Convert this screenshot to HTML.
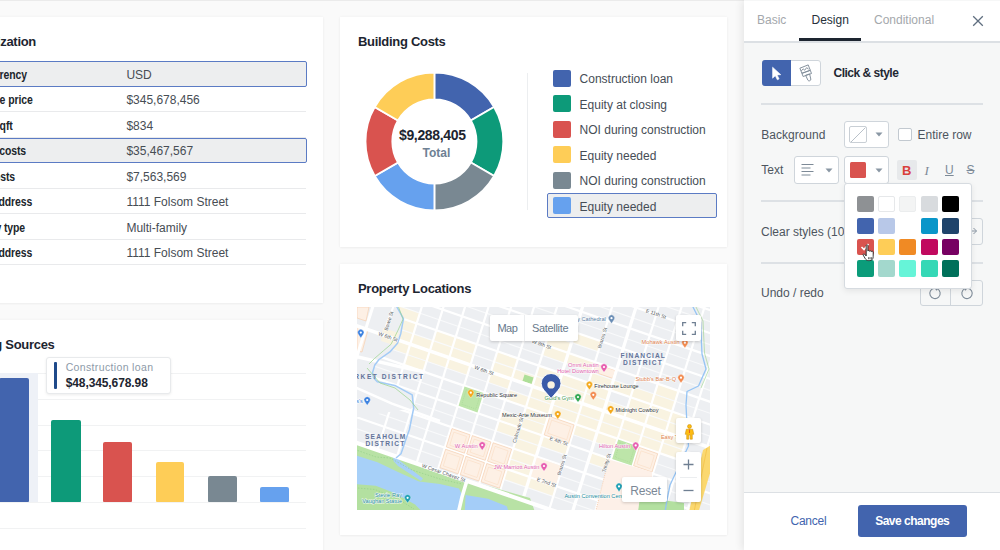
<!DOCTYPE html>
<html><head><meta charset="utf-8"><title>Dashboard</title>
<style>
*{margin:0;padding:0;box-sizing:border-box}
html,body{width:1000px;height:550px;overflow:hidden}
body{background:#fafafa;font-family:"Liberation Sans",Arial,sans-serif;position:relative;color:#1d2530}
.a{position:absolute}
.t{position:absolute;line-height:1;white-space:nowrap}
.card{position:absolute;background:#fff;box-shadow:0 0 3px rgba(0,0,0,.05),0 1px 2px rgba(0,0,0,.03)}
.h{font-weight:bold;font-size:13px;color:#1d2530;letter-spacing:-.3px}
.lb{font-weight:bold;font-size:12px;color:#20252b;letter-spacing:-.1px;transform:scaleX(.87);transform-origin:100% 50%}
.vl{font-size:12px;color:#474d54}
.sep{position:absolute;height:1px;background:#e9eaec}
.sel{position:absolute;background:#edeeef;border:1.5px solid #5b7bc4;border-radius:2px}
.grid{position:absolute;height:1px;background:#f1f2f3}
.bar{position:absolute;border-radius:2px 2px 1px 1px}
.lg{position:absolute;width:18px;height:17px;border-radius:2px}
.lt{position:absolute;font-size:12px;color:#464d56;line-height:1;white-space:nowrap}
</style></head><body>
<div class="a" style="left:0;top:0;width:1000px;height:1px;background:#ebebeb"></div>

<!-- Card 1: Capitalization -->
<div class="card" style="left:-300px;top:17px;width:623px;height:286px"></div>
<div class="t h" style="right:964px;top:34.6px">Capitalization</div>
<div class="sel" style="left:-300px;top:61px;width:607px;height:25.5px"></div>
<div class="sep" style="left:-300px;top:111.0px;width:606px"></div>
<div class="sep" style="left:-300px;top:136.5px;width:606px"></div>
<div class="sel" style="left:-300px;top:137.5px;width:607px;height:25.5px"></div>
<div class="sep" style="left:-300px;top:187.5px;width:606px"></div>
<div class="sep" style="left:-300px;top:213.0px;width:606px"></div>
<div class="sep" style="left:-300px;top:238.5px;width:606px"></div>
<div class="sep" style="left:-300px;top:264.0px;width:606px"></div>
<div class="t lb" style="right:973.6px;top:68.5px">Currency</div>
<div class="t lb" style="right:966.9px;top:94px">Purchase price</div>
<div class="t lb" style="right:987.5px;top:119.5px">Price/sqft</div>
<div class="t lb" style="right:974.2px;top:145px">Hard costs</div>
<div class="t lb" style="right:985.3px;top:170.5px">Soft costs</div>
<div class="t lb" style="right:967.6px;top:196px">Property address</div>
<div class="t lb" style="right:975.4px;top:221.5px">Property type</div>
<div class="t lb" style="right:967.6px;top:247px">Mailing address</div>
<div class="t vl" style="left:126.4px;top:68.5px">USD</div>
<div class="t vl" style="left:126.4px;top:94px">$345,678,456</div>
<div class="t vl" style="left:126.4px;top:119.5px">$834</div>
<div class="t vl" style="left:126.4px;top:145px">$35,467,567</div>
<div class="t vl" style="left:126.4px;top:170.5px">$7,563,569</div>
<div class="t vl" style="left:126.4px;top:196px">1111 Folsom Street</div>
<div class="t vl" style="left:126.4px;top:221.5px">Multi-family</div>
<div class="t vl" style="left:126.4px;top:247px">1111 Folsom Street</div>

<!-- Card 2: Funding Sources -->
<div class="card" style="left:-300px;top:320px;width:623px;height:260px"></div>
<div class="t h" style="right:945.5px;top:337.9px">Funding Sources</div>
<div class="a" style="left:-12px;top:373px;width:50px;height:129px;background:#eef1f7"></div>
<div class="grid" style="left:38px;top:373px;width:268px"></div>
<div class="grid" style="left:38px;top:399px;width:268px"></div>
<div class="grid" style="left:38px;top:424.5px;width:268px"></div>
<div class="grid" style="left:38px;top:450px;width:268px"></div>
<div class="grid" style="left:38px;top:476px;width:268px"></div>
<div class="grid" style="left:-300px;top:501.5px;width:606px"></div>
<div class="grid" style="left:-300px;top:527.5px;width:606px"></div>
<div class="bar" style="left:-1px;top:378.2px;width:29.8px;height:123.8px;background:#4264ae"></div>
<div class="bar" style="left:51.2px;top:420.2px;width:29.4px;height:81.8px;background:#0d9a79"></div>
<div class="bar" style="left:103.4px;top:441.9px;width:28.8px;height:60.1px;background:#d9534f"></div>
<div class="bar" style="left:155.8px;top:461.8px;width:28.5px;height:40.2px;background:#fecd57"></div>
<div class="bar" style="left:208px;top:475.5px;width:28.5px;height:26.5px;background:#798892"></div>
<div class="bar" style="left:259.8px;top:487px;width:28.8px;height:15px;background:#66a1ee"></div>
<div class="a" style="left:46px;top:357px;width:125px;height:37px;background:#fff;border:1px solid #e8eaec;border-radius:3px;box-shadow:0 1px 3px rgba(0,0,0,.08)"></div>
<div class="a" style="left:54px;top:361.5px;width:3px;height:27.5px;background:#1f4a8a;border-radius:1px"></div>
<div class="t" style="left:65.7px;top:362.3px;font-size:10.5px;color:#8d9aa8;letter-spacing:.35px">Construction loan</div>
<div class="t" style="left:65.7px;top:376.5px;font-size:12px;font-weight:bold;color:#1d2530;letter-spacing:-.1px">$48,345,678.98</div>

<!-- Card 3: Building Costs -->
<div class="card" style="left:340px;top:17px;width:387px;height:230px"></div>
<div class="t h" style="left:358px;top:34.5px">Building Costs</div>

<svg class="a" style="left:0;top:0" width="1000" height="550" viewBox="0 0 1000 550">
<g stroke="#fff" stroke-width="1.8" stroke-linejoin="miter">
<path d="M434.40 72.60A68.9 68.9 0 0 1 494.07 107.05L470.86 120.45A42.1 42.1 0 0 0 434.40 99.40Z" fill="#4264ae"/>
<path d="M494.07 107.05A68.9 68.9 0 0 1 494.07 175.95L470.86 162.55A42.1 42.1 0 0 0 470.86 120.45Z" fill="#0d9a79"/>
<path d="M494.07 175.95A68.9 68.9 0 0 1 434.40 210.40L434.40 183.60A42.1 42.1 0 0 0 470.86 162.55Z" fill="#798892"/>
<path d="M434.40 210.40A68.9 68.9 0 0 1 374.73 175.95L397.94 162.55A42.1 42.1 0 0 0 434.40 183.60Z" fill="#66a1ee"/>
<path d="M374.73 175.95A68.9 68.9 0 0 1 374.73 107.05L397.94 120.45A42.1 42.1 0 0 0 397.94 162.55Z" fill="#d9534f"/>
<path d="M374.73 107.05A68.9 68.9 0 0 1 434.40 72.60L434.40 99.40A42.1 42.1 0 0 0 397.94 120.45Z" fill="#fecd57"/>
</g></svg>
<div class="t" style="left:399px;top:127.5px;font-size:14px;font-weight:bold;color:#1d2530;letter-spacing:-.35px">$9,288,405</div>
<div class="t" style="left:422.5px;top:147.2px;font-size:12px;font-weight:bold;color:#6e8194">Total</div>
<div class="a" style="left:527px;top:73px;width:1px;height:137px;background:#eceef0"></div>
<div class="sel" style="left:546.7px;top:193.1px;width:170.1px;height:25.3px"></div>
<div class="lg" style="left:553.4px;top:69.6px;background:#4264ae"></div>
<div class="lg" style="left:553.4px;top:95.1px;background:#0d9a79"></div>
<div class="lg" style="left:553.4px;top:120.6px;background:#d9534f"></div>
<div class="lg" style="left:553.4px;top:146.1px;background:#fecd57"></div>
<div class="lg" style="left:553.4px;top:171.6px;background:#798892"></div>
<div class="lg" style="left:553.4px;top:197.1px;background:#66a1ee"></div>
<div class="lt" style="left:579.6px;top:73.2px">Construction loan</div>
<div class="lt" style="left:579.6px;top:98.7px">Equity at closing</div>
<div class="lt" style="left:579.6px;top:124.2px">NOI during construction</div>
<div class="lt" style="left:579.6px;top:149.7px">Equity needed</div>
<div class="lt" style="left:579.6px;top:175.2px">NOI during construction</div>
<div class="lt" style="left:579.6px;top:200.7px">Equity needed</div>

<!-- Card 4: Property Locations -->
<div class="card" style="left:340px;top:264px;width:387px;height:271px"></div>
<div class="t h" style="left:358px;top:282px">Property Locations</div>
<!--MAP-->
<svg class="a" style="left:357px;top:307px" width="353" height="203" viewBox="0 0 353 203" font-family="Liberation Sans, Arial, sans-serif">
<rect width="353" height="203" fill="#edeff2"/>
<clipPath id="gc"><polygon points="40.2,-7.0 40.2,0.2 46.2,12.2 45.1,19.8 40.7,32.9 34.2,43.8 22.2,52.5 17.8,58.0 15.5,65.7 16.7,71.0 20.3,74.8 37.8,78.4 55.2,87.9 56.7,101.0 -5.0,111.0 -5.0,213.0 363.0,213.0 363.0,-7.0"/></clipPath>
<g clip-path="url(#gc)">
<polygon points="142.0,113.9 162.2,120.9 159.2,130.7 139.0,123.7" fill="#f9f3e1"/>
<polygon points="41.1,-1.1 62.5,6.3 59.5,16.1 38.1,8.7" fill="#f9f3e1"/>
<polygon points="37.9,9.3 59.3,16.7 56.3,26.5 34.9,19.1" fill="#f9f3e1"/>
<polygon points="34.7,19.6 56.1,27.0 53.1,36.8 31.7,29.4" fill="#f9f3e1"/>
<polygon points="56.7,27.2 75.6,33.7 72.6,43.5 53.6,37.0" fill="#f9f3e1"/>
<polygon points="53.5,37.5 72.4,44.1 69.4,53.9 50.4,47.3" fill="#f9f3e1"/>
<polygon points="76.2,33.9 95.2,40.5 92.1,50.3 73.1,43.7" fill="#f9f3e1"/>
<polygon points="73.0,44.3 91.9,50.8 88.9,60.6 69.9,54.1" fill="#f9f3e1"/>
<polygon points="50.3,47.9 69.2,54.4 66.2,64.2 47.2,57.7" fill="#f9f3e1"/>
<polygon points="31.5,30.0 52.9,37.4 49.9,47.2 28.5,39.8" fill="#f9f3e1"/>
<polygon points="79.4,23.6 98.4,30.1 95.3,39.9 76.3,33.4" fill="#f9f3e1"/>
<polygon points="98.9,30.3 119.5,37.4 116.5,47.2 95.9,40.1" fill="#f9f3e1"/>
<polygon points="95.7,40.7 116.3,47.8 113.3,57.6 92.7,50.5" fill="#f9f3e1"/>
<polygon points="92.5,51.0 113.1,58.1 110.0,67.9 89.4,60.8" fill="#f9f3e1"/>
<polygon points="140.5,44.7 160.7,51.6 157.7,61.4 137.4,54.5" fill="#f9f3e1"/>
<polygon points="137.2,55.0 157.5,62.0 154.4,71.8 134.2,64.8" fill="#f9f3e1"/>
<polygon points="134.0,65.3 154.3,72.3 151.2,82.1 131.0,75.1" fill="#f9f3e1"/>
<polygon points="158.0,62.2 178.3,69.2 175.2,79.0 155.0,72.0" fill="#f9f3e1"/>
<polygon points="151.6,82.9 171.9,89.8 168.8,99.6 148.6,92.7" fill="#f9f3e1"/>
<polygon points="172.4,90.0 194.9,97.8 191.8,107.6 169.4,99.8" fill="#f9f3e1"/>
<polygon points="191.6,28.0 214.1,35.7 211.1,45.5 188.6,37.8" fill="#f9f3e1"/>
<polygon points="217.9,25.6 244.0,34.6 240.9,44.4 214.8,35.4" fill="#f9f3e1"/>
<polygon points="188.4,38.3 210.9,46.1 207.9,55.9 185.4,48.1" fill="#f9f3e1"/>
<polygon points="211.5,46.3 237.6,55.3 234.5,65.1 208.4,56.1" fill="#f9f3e1"/>
<polygon points="178.8,69.3 201.3,77.1 198.3,86.9 175.8,79.1" fill="#f9f3e1"/>
<polygon points="205.0,66.9 231.2,75.9 228.1,85.8 202.0,76.7" fill="#f9f3e1"/>
<polygon points="182.0,59.0 204.5,66.8 201.5,76.6 179.0,68.8" fill="#f9f3e1"/>
<polygon points="276.9,80.3 297.1,87.3 294.1,97.1 273.9,90.1" fill="#f9f3e1"/>
<polygon points="300.9,77.1 321.1,84.1 318.1,93.9 297.9,86.9" fill="#f9f3e1"/>
<polygon points="159.6,131.4 182.1,139.2 179.0,149.0 156.5,141.2" fill="#f9f3e1"/>
<polygon points="185.8,129.0 211.9,138.0 208.9,147.8 182.8,138.8" fill="#f9f3e1"/>
<polygon points="234.1,145.7 253.9,152.5 250.9,162.3 231.1,155.5" fill="#f9f3e1"/>
<polygon points="173.0,170.4 199.1,179.4 196.1,189.2 169.9,180.2" fill="#f9f3e1"/>
<polygon points="156.4,141.7 178.9,149.5 175.8,159.3 153.3,151.5" fill="#f9f3e1"/>
<polygon points="145.2,103.5 165.4,110.5 162.4,120.3 142.2,113.3" fill="#f9f3e1"/>
<polygon points="166.0,110.7 188.5,118.5 185.4,128.3 162.9,120.5" fill="#f9f3e1"/>
<polygon points="162.8,121.1 185.3,128.8 182.2,138.6 159.7,130.9" fill="#f9f3e1"/>
<polygon points="153.2,152.1 175.6,159.8 172.6,169.6 150.1,161.9" fill="#f9f3e1"/>
<polygon points="149.9,162.4 172.4,170.2 169.4,180.0 146.9,172.2" fill="#f9f3e1"/>
<polygon points="231.7,76.1 252.8,83.4 249.8,93.2 228.7,85.9" fill="#f9f3e1"/>
<polygon points="175.6,79.7 198.1,87.4 195.1,97.2 172.6,89.5" fill="#f9f3e1"/>
<polygon points="284.9,128.8 305.1,135.8 302.1,145.6 281.8,138.6" fill="#f9f3e1"/>
<polygon points="305.6,136.0 325.9,143.0 322.8,152.8 302.6,145.8" fill="#f9f3e1"/>
<polygon points="169.2,100.4 191.7,108.1 188.6,117.9 166.1,110.2" fill="#f9f3e1"/>
<polygon points="195.4,98.0 221.5,107.0 218.5,116.8 192.4,107.8" fill="#f9f3e1"/>
<polygon points="201.8,77.3 227.9,86.3 224.9,96.1 198.8,87.1" fill="#f9f3e1"/>
<polygon points="198.6,87.6 224.7,96.6 221.7,106.4 195.6,97.4" fill="#f9f3e1"/>
<polygon points="218.9,117.5 240.0,124.8 237.0,134.6 215.8,127.3" fill="#f9f3e1"/>
<polygon points="225.3,96.8 246.4,104.1 243.4,113.9 222.2,106.6" fill="#f9f3e1"/>
<polygon points="222.1,107.2 243.2,114.5 240.2,124.3 219.0,117.0" fill="#f9f3e1"/>
<polygon points="228.5,86.5 249.6,93.8 246.6,103.6 225.5,96.3" fill="#f9f3e1"/>
<polygon points="243.8,114.6 263.5,121.5 260.5,131.3 240.7,124.4" fill="#f9f3e1"/>
<polygon points="240.6,125.0 260.3,131.8 257.3,141.6 237.5,134.8" fill="#f9f3e1"/>
<polygon points="234.9,65.8 256.0,73.1 253.0,82.9 231.9,75.6" fill="#f9f3e1"/>
<polygon points="250.2,94.0 270.0,100.8 266.9,110.6 247.1,103.8" fill="#f9f3e1"/>
<polygon points="247.0,104.3 266.8,111.1 263.7,120.9 243.9,114.1" fill="#f9f3e1"/>
<polygon points="256.6,73.3 276.4,80.1 273.3,89.9 253.5,83.1" fill="#f9f3e1"/>
<polygon points="267.3,111.3 287.5,118.3 284.5,128.1 264.3,121.1" fill="#f9f3e1"/>
<polygon points="264.1,121.7 284.3,128.6 281.3,138.4 261.0,131.5" fill="#f9f3e1"/>
<polygon points="273.7,90.6 293.9,97.6 290.9,107.4 270.7,100.4" fill="#f9f3e1"/>
<polygon points="270.5,101.0 290.7,108.0 287.7,117.8 267.5,110.8" fill="#f9f3e1"/>
<polygon points="288.1,118.5 308.3,125.5 305.3,135.3 285.0,128.3" fill="#f9f3e1"/>
<polygon points="294.5,97.8 314.7,104.8 311.7,114.6 291.4,107.6" fill="#f9f3e1"/>
<polygon points="291.3,108.1 311.5,115.1 308.5,124.9 288.2,117.9" fill="#f9f3e1"/>
<polygon points="297.7,87.5 317.9,94.4 314.9,104.2 294.7,97.3" fill="#f9f3e1"/>
<polygon points="312.1,115.3 332.3,122.3 329.3,132.1 309.0,125.1" fill="#f9f3e1"/>
<polygon points="308.8,125.7 329.1,132.6 326.0,142.4 305.8,135.5" fill="#f9f3e1"/>
<polygon points="315.3,105.0 335.5,111.9 332.5,121.7 312.2,114.8" fill="#f9f3e1"/>
<polygon points="238.7,56.5 258.2,63.3 255.7,71.4 236.1,64.7" fill="#fdf0e5" stroke="#f6cba8" stroke-width=".6"/>
</g>
<polygon points="167.5,67.5 176.5,70.5 174.5,77.0 165.5,74.0" fill="#aedf98"/>
<polygon points="0.0,0.0 12.0,0.0 9.0,14.0 0.0,11.0" fill="#fdf0e5" stroke="#f6cba8" stroke-width=".6"/>
<polygon points="0.0,19.0 11.0,23.0 5.0,45.0 0.0,44.0" fill="#fdf0e5" stroke="#f6cba8" stroke-width=".6"/>
<polygon points="26.0,21.0 42.0,26.0 39.0,39.0 24.0,34.0" fill="#f9f3e1"/>
<g clip-path="url(#gc)">
<line x1="-5" y1="-257.7" x2="358" y2="-132.5" stroke="#fff" stroke-width="2.2"/>
<line x1="-5" y1="-246.3" x2="358" y2="-121.0" stroke="#f9fafb" stroke-width="1.1"/>
<line x1="-5" y1="-234.8" x2="358" y2="-109.6" stroke="#fff" stroke-width="2.2"/>
<line x1="-5" y1="-223.4" x2="358" y2="-98.1" stroke="#f9fafb" stroke-width="1.1"/>
<line x1="-5" y1="-211.9" x2="358" y2="-86.7" stroke="#fff" stroke-width="2.2"/>
<line x1="-5" y1="-200.5" x2="358" y2="-75.2" stroke="#f9fafb" stroke-width="1.1"/>
<line x1="-5" y1="-189.0" x2="358" y2="-63.8" stroke="#fff" stroke-width="2.2"/>
<line x1="-5" y1="-177.6" x2="358" y2="-52.3" stroke="#f9fafb" stroke-width="1.1"/>
<line x1="-5" y1="-166.1" x2="358" y2="-40.9" stroke="#fff" stroke-width="2.2"/>
<line x1="-5" y1="-154.7" x2="358" y2="-29.4" stroke="#f9fafb" stroke-width="1.1"/>
<line x1="-5" y1="-143.2" x2="358" y2="-18.0" stroke="#fff" stroke-width="2.2"/>
<line x1="-5" y1="-131.8" x2="358" y2="-6.5" stroke="#f9fafb" stroke-width="1.1"/>
<line x1="-5" y1="-120.3" x2="358" y2="4.9" stroke="#fff" stroke-width="2.2"/>
<line x1="-5" y1="-108.9" x2="358" y2="16.4" stroke="#f9fafb" stroke-width="1.1"/>
<line x1="-5" y1="-97.4" x2="358" y2="27.8" stroke="#fff" stroke-width="2.2"/>
<line x1="-5" y1="-86.0" x2="358" y2="39.3" stroke="#f9fafb" stroke-width="1.1"/>
<line x1="-5" y1="-74.5" x2="358" y2="50.7" stroke="#fff" stroke-width="2.2"/>
<line x1="-5" y1="-63.1" x2="358" y2="62.2" stroke="#f9fafb" stroke-width="1.1"/>
<line x1="-5" y1="-51.6" x2="358" y2="73.6" stroke="#fff" stroke-width="2.2"/>
<line x1="-5" y1="-40.2" x2="358" y2="85.1" stroke="#f9fafb" stroke-width="1.1"/>
<line x1="-5" y1="-28.7" x2="358" y2="96.5" stroke="#fff" stroke-width="2.2"/>
<line x1="-5" y1="-17.3" x2="358" y2="108.0" stroke="#f9fafb" stroke-width="1.1"/>
<line x1="-5" y1="-5.8" x2="358" y2="119.4" stroke="#fff" stroke-width="2.2"/>
<line x1="-5" y1="5.6" x2="358" y2="130.9" stroke="#f9fafb" stroke-width="1.1"/>
<line x1="-5" y1="17.1" x2="358" y2="142.3" stroke="#fff" stroke-width="2.2"/>
<line x1="-5" y1="28.5" x2="358" y2="153.8" stroke="#f9fafb" stroke-width="1.1"/>
<line x1="-5" y1="40.0" x2="358" y2="165.2" stroke="#fff" stroke-width="2.2"/>
<line x1="-5" y1="51.4" x2="358" y2="176.7" stroke="#f9fafb" stroke-width="1.1"/>
<line x1="-5" y1="62.9" x2="358" y2="188.1" stroke="#fff" stroke-width="2.2"/>
<line x1="-5" y1="74.3" x2="358" y2="199.6" stroke="#f9fafb" stroke-width="1.1"/>
<line x1="-5" y1="85.8" x2="358" y2="211.0" stroke="#fff" stroke-width="2.2"/>
<line x1="-5" y1="97.2" x2="358" y2="222.5" stroke="#f9fafb" stroke-width="1.1"/>
<line x1="-5" y1="108.7" x2="358" y2="233.9" stroke="#fff" stroke-width="2.2"/>
<line x1="-5" y1="120.1" x2="358" y2="245.4" stroke="#f9fafb" stroke-width="1.1"/>
<line x1="-5" y1="143.0" x2="358" y2="268.3" stroke="#f9fafb" stroke-width="1.1"/>
<line x1="-5" y1="154.5" x2="358" y2="279.7" stroke="#fff" stroke-width="2.2"/>
<line x1="-5" y1="165.9" x2="358" y2="291.2" stroke="#f9fafb" stroke-width="1.1"/>
<line x1="-5" y1="177.4" x2="358" y2="302.6" stroke="#fff" stroke-width="2.2"/>
<line x1="-5" y1="188.8" x2="358" y2="314.1" stroke="#f9fafb" stroke-width="1.1"/>
<line x1="-5" y1="200.3" x2="358" y2="325.5" stroke="#fff" stroke-width="2.2"/>
<line x1="-5" y1="211.7" x2="358" y2="337.0" stroke="#f9fafb" stroke-width="1.1"/>
<line x1="14.1" y1="-5" x2="-52.0" y2="208" stroke="#fff" stroke-width="2.2"/>
<line x1="66.3" y1="-5" x2="0.3" y2="208" stroke="#fff" stroke-width="2.2"/>
<line x1="88.0" y1="-5" x2="21.9" y2="208" stroke="#fff" stroke-width="2.2"/>
<line x1="109.5" y1="-5" x2="43.5" y2="208" stroke="#fff" stroke-width="2.2"/>
<line x1="133.0" y1="-5" x2="66.9" y2="208" stroke="#fff" stroke-width="2.2"/>
<line x1="155.6" y1="-5" x2="89.5" y2="208" stroke="#fff" stroke-width="2.2"/>
<line x1="178.6" y1="-5" x2="112.5" y2="208" stroke="#fff" stroke-width="2.2"/>
<line x1="201.6" y1="-5" x2="135.5" y2="208" stroke="#fff" stroke-width="2.2"/>
<line x1="227.1" y1="-5" x2="161.0" y2="208" stroke="#fff" stroke-width="3.2"/>
<line x1="256.6" y1="-5" x2="190.5" y2="208" stroke="#fff" stroke-width="2.2"/>
<line x1="280.6" y1="-5" x2="214.5" y2="208" stroke="#fff" stroke-width="3.2"/>
<line x1="303.1" y1="-5" x2="237.0" y2="208" stroke="#fff" stroke-width="2.2"/>
<line x1="326.1" y1="-5" x2="260.0" y2="208" stroke="#fff" stroke-width="2.2"/>
<line x1="349.1" y1="-5" x2="283.0" y2="208" stroke="#fff" stroke-width="2.2"/>
<line x1="372.1" y1="-5" x2="306.0" y2="208" stroke="#fff" stroke-width="2.2"/>
<line x1="395.1" y1="-5" x2="329.0" y2="208" stroke="#fff" stroke-width="2.2"/>
</g>
<polygon points="95.0,121.6 113.1,127.8 107.4,146.2 89.3,139.9" fill="#fdf0e5" stroke="#f6cba8" stroke-width=".6"/>
<polygon points="96.8,125.1 109.6,129.5 105.6,142.6 92.8,138.2" fill="none" stroke="#f8d8bd" stroke-width=".5"/>
<polygon points="115.4,128.6 133.9,135.0 128.2,153.3 109.7,147.0" fill="#fdf0e5" stroke="#f6cba8" stroke-width=".6"/>
<polygon points="117.2,132.1 130.4,136.7 126.4,149.8 113.2,145.2" fill="none" stroke="#f8d8bd" stroke-width=".5"/>
<polygon points="136.2,135.8 154.6,142.1 148.9,160.5 130.5,154.1" fill="#fdf0e5" stroke="#f6cba8" stroke-width=".6"/>
<polygon points="138.0,139.3 151.2,143.9 147.1,157.0 134.0,152.4" fill="none" stroke="#f8d8bd" stroke-width=".5"/>
<polygon points="88.6,142.3 106.7,148.5 101.0,166.8 82.9,160.6" fill="#fdf0e5" stroke="#f6cba8" stroke-width=".6"/>
<polygon points="90.4,145.8 103.2,150.2 99.2,163.3 86.3,158.9" fill="none" stroke="#f8d8bd" stroke-width=".5"/>
<polygon points="109.0,149.3 127.4,155.7 121.8,174.0 103.3,167.6" fill="#fdf0e5" stroke="#f6cba8" stroke-width=".6"/>
<polygon points="110.8,152.8 124.0,157.4 120.0,170.5 106.8,165.9" fill="none" stroke="#f8d8bd" stroke-width=".5"/>
<polygon points="129.8,156.5 148.2,162.8 142.5,181.2 124.1,174.8" fill="#fdf0e5" stroke="#f6cba8" stroke-width=".6"/>
<polygon points="131.6,160.0 144.8,164.6 140.7,177.7 127.5,173.1" fill="none" stroke="#f8d8bd" stroke-width=".5"/>
<polygon points="192.8,109.5 217.1,117.9 211.5,136.3 187.2,127.9" fill="#fdf0e5" stroke="#f6cba8" stroke-width=".6"/>
<polygon points="194.7,113.1 213.7,119.6 209.7,132.7 190.6,126.2" fill="none" stroke="#f8d8bd" stroke-width=".5"/>
<polygon points="282.3,140.4 300.7,146.7 295.0,165.1 276.6,158.7" fill="#fdf0e5" stroke="#f6cba8" stroke-width=".6"/>
<polygon points="284.1,143.9 297.3,148.5 293.2,161.6 280.0,157.0" fill="none" stroke="#f8d8bd" stroke-width=".5"/>
<polygon points="179.8,150.5 204.7,159.1 198.8,178.0 174.0,169.4" fill="#fdf1e6"/>
<polygon points="107.5,79.6 126.5,86.1 120.5,105.4 101.6,98.8" fill="#bde5a9"/>
<polygon points="109.2,82.9 123.3,87.7 118.8,102.1 104.8,97.2" fill="none" stroke="#9ed48f" stroke-width=".5" stroke-dasharray="1 1"/>
<polygon points="261.2,132.6 280.5,139.3 274.6,158.5 255.2,151.9" fill="#bde5a9"/>
<polygon points="262.9,135.9 277.3,140.9 272.9,155.2 258.4,150.3" fill="none" stroke="#9ed48f" stroke-width=".5" stroke-dasharray="1 1"/>
<line x1="-5" y1="17.1" x2="358" y2="142.3" stroke="#fff" stroke-width="3.6"/>
<polyline points="-5.0,48.6 43.6,59.9 68.0,65.0" stroke="#fff" stroke-width="3.4" fill="none"/>
<polyline points="-5.0,79.0 35.0,96.6 83.0,114.0" stroke="#fff" stroke-width="2.6" fill="none"/>
<polyline points="18.0,-7.0 0.0,49.0 -5.0,63.0" stroke="#fff" stroke-width="3" fill="none"/>
<polyline points="37.0,-2.0 29.0,19.0" stroke="#fff" stroke-width="2" fill="none"/>
<polygon points="-5.0,133.0 83.0,164.0 113.0,174.0 173.0,191.0 178.0,205.0 -5.0,205.0" fill="#b8e2a5"/>
<polygon points="-5.0,147.0 20.5,155.3 41.0,165.0 62.0,174.5 83.0,177.0 102.0,181.5 105.0,188.0 103.5,205.0 -5.0,205.0" fill="#a7d0f8"/>
<polygon points="36.0,148.5 40.5,148.5 43.0,154.0 66.0,171.5 64.0,174.0 41.0,159.0 36.5,154.0" fill="#a7d0f8"/>
<polygon points="-5.0,176.8 18.7,178.7 37.5,186.0 58.0,197.4 65.5,205.0 -5.0,205.0" fill="#b3e0a0"/>
<polygon points="108.6,188.0 131.0,191.8 149.8,199.3 151.7,205.0 107.7,205.0" fill="#a4cdf8"/>
<polyline points="-5.0,180.5 18.0,182.5 41.0,192.0 57.0,202.0" stroke="#8fcf84" stroke-width=".6" stroke-dasharray="1.5 1.5" fill="none"/>
<polyline points="-5.0,141.5 19.0,150.0 33.0,151.0 55.0,163.0 83.0,172.0 105.0,177.0" stroke="#8fcf84" stroke-width=".6" stroke-dasharray="1.5 1.5" fill="none"/>
<line x1="-5" y1="134.3" x2="358" y2="259.5" stroke="#fff" stroke-width="4.2"/>
<polyline points="109.5,175.0 105.0,190.0 101.5,205.0" stroke="#fff" stroke-width="3.6" fill="none"/>
<polygon points="251.7,152.4 295.0,165.0 295.0,205.0 238.5,205.0" fill="#fdf0e8"/>
<polyline points="251.7,152.4 238.5,205.0" stroke="#f3c6a3" stroke-width=".8" stroke-dasharray="1 1" fill="none"/>
<polygon points="283.0,190.0 327.0,196.0 327.0,205.0 281.0,205.0" fill="#b3e0a0"/>
<polygon points="346.0,143.0 354.0,138.0 354.0,163.0 341.5,205.0 332.0,205.0" fill="#fbd86f"/>
<polyline points="350.0,141.0 337.0,205.0" stroke="#f3c24a" stroke-width=".8" fill="none"/>
<polyline points="40.0,-2.0 40.0,0.2 46.5,11.6 43.8,26.4 40.5,36.2 32.9,44.9 22.0,52.5 17.8,58.0 15.5,65.7 16.7,71.0 20.3,74.8 37.8,78.4 55.2,87.9 56.7,101.0 53.8,115.5 52.4,122.5 48.0,135.0 44.0,146.8 39.0,151.0" stroke="#a3cbf6" stroke-width="1.5" fill="none" stroke-linejoin="round"/>
<polyline points="41.6,-2.0 41.6,0.2 46.0,12.2 41.1,23.1 34.0,37.3 26.4,43.8 17.6,51.4 12.0,57.0" stroke="#98d28a" stroke-width=".7" fill="none"/>
<polyline points="10.0,61.0 23.0,76.0 38.0,81.0 53.0,93.0 61.0,103.0" stroke="#98d28a" stroke-width=".7" fill="none"/>
<polyline points="335.0,-2.0 336.0,0.0 343.5,15.0 345.0,47.0 349.0,62.0 341.5,79.0 330.0,84.5 329.0,98.0 330.0,118.0 331.5,139.0 321.0,161.0 313.0,178.0 310.0,193.0 308.0,205.0" stroke="#95c4f5" stroke-width="1.3" fill="none" stroke-linejoin="round"/>
<polyline points="338.0,-2.0 346.0,14.0 347.5,46.0 352.0,62.0 344.0,81.0" stroke="#98d28a" stroke-width=".6" fill="none"/>
<text x="30.5" y="31.5" font-size="5.2" fill="#555a60" text-anchor="middle" font-weight="normal" stroke="#fff" stroke-width="1" stroke-opacity=".85" paint-order="stroke" transform="rotate(19 30.5 31.5)">W 6th St</text>
<text x="126.4" y="65.1" font-size="5.2" fill="#555a60" text-anchor="middle" font-weight="normal" stroke="#fff" stroke-width="1" stroke-opacity=".85" paint-order="stroke" transform="rotate(19 126.4 65.1)">W 6th St</text>
<text x="184.0" y="39.0" font-size="5.2" fill="#555a60" text-anchor="middle" font-weight="normal" stroke="#fff" stroke-width="1" stroke-opacity=".85" paint-order="stroke" transform="rotate(19 184.0 39.0)">W 8th St</text>
<text x="298.5" y="8.6" font-size="5.2" fill="#555a60" text-anchor="middle" font-weight="normal" stroke="#fff" stroke-width="1" stroke-opacity=".85" paint-order="stroke" transform="rotate(19 298.5 8.6)">E 11th St</text>
<text x="33.5" y="14.5" font-size="5" fill="#555a60" text-anchor="middle" font-weight="normal" stroke="#fff" stroke-width="1" stroke-opacity=".85" paint-order="stroke" transform="rotate(-72 33.5 14.5)">Bowie St</text>
<text x="247.0" y="31.5" font-size="5" fill="#555a60" text-anchor="middle" font-weight="normal" stroke="#fff" stroke-width="1" stroke-opacity=".85" paint-order="stroke" transform="rotate(-73 247.0 31.5)">Brazos St</text>
<text x="206.5" y="158.5" font-size="5" fill="#555a60" text-anchor="middle" font-weight="normal" stroke="#fff" stroke-width="1" stroke-opacity=".85" paint-order="stroke" transform="rotate(-73 206.5 158.5)">Brazos St</text>
<text x="162.5" y="123.5" font-size="5" fill="#555a60" text-anchor="middle" font-weight="normal" stroke="#fff" stroke-width="1" stroke-opacity=".85" paint-order="stroke" transform="rotate(-73 162.5 123.5)">Colorado St</text>
<text x="251.0" y="156.5" font-size="5" fill="#555a60" text-anchor="middle" font-weight="normal" stroke="#fff" stroke-width="1" stroke-opacity=".85" paint-order="stroke" transform="rotate(-73 251.0 156.5)">Trinity St</text>
<text x="201.1" y="135.7" font-size="5.2" fill="#555a60" text-anchor="middle" font-weight="normal" stroke="#fff" stroke-width="1" stroke-opacity=".85" paint-order="stroke" transform="rotate(19 201.1 135.7)">E 4th St</text>
<text x="189.0" y="177.0" font-size="5.2" fill="#555a60" text-anchor="middle" font-weight="normal" stroke="#fff" stroke-width="1" stroke-opacity=".85" paint-order="stroke" transform="rotate(19 189.0 177.0)">E 2nd St</text>
<text x="86.1" y="167.5" font-size="5.2" fill="#555a60" text-anchor="middle" font-weight="normal" stroke="#fff" stroke-width="1" stroke-opacity=".85" paint-order="stroke" transform="rotate(19.5 86.1 167.5)">W Cesar Chavez St</text>
<text x="67.6" y="71.9" font-size="6.6" fill="#62739a" text-anchor="end" font-weight="bold" letter-spacing="1.55">MARKET DISTRICT</text>
<text x="8.0" y="131.7" font-size="6.6" fill="#62739a" text-anchor="start" font-weight="bold" letter-spacing="1.2">SEAHOLM</text>
<text x="8.4" y="138.5" font-size="6.6" fill="#62739a" text-anchor="start" font-weight="bold" letter-spacing="1.2">DISTRICT</text>
<text x="263.5" y="50.6" font-size="6.6" fill="#62739a" text-anchor="start" font-weight="bold" letter-spacing="1.1">FINANCIAL</text>
<text x="266.0" y="57.6" font-size="6.6" fill="#62739a" text-anchor="start" font-weight="bold" letter-spacing="1.2">DISTRICT</text>
<path d="M254.5 16.5L252.0 12.9A3.1 3.1 0 1 1 257.0 12.9Z" fill="#6a8db5" stroke="#fff" stroke-width=".35"/>
<circle cx="254.5" cy="11.2" r="1.12" fill="#fff"/>
<text x="248.8" y="13.5" font-size="5.6" fill="#5b7fa6" text-anchor="end" font-weight="normal" stroke="#fff" stroke-width="1" stroke-opacity=".85" paint-order="stroke">St. Mary Cathedral</text>
<path d="M113.8 91.0L111.3 87.4A3.1 3.1 0 1 1 116.3 87.4Z" fill="#f4a91c" stroke="#fff" stroke-width=".35"/>
<circle cx="113.8" cy="85.7" r="1.12" fill="#fff"/>
<text x="119.3" y="89.5" font-size="5.5" fill="#2d3033" text-anchor="start" font-weight="normal" stroke="#fff" stroke-width="1" stroke-opacity=".85" paint-order="stroke">Republic Square</text>
<path d="M221.0 95.3L218.5 91.7A3.1 3.1 0 1 1 223.5 91.7Z" fill="#34a853" stroke="#fff" stroke-width=".35"/>
<circle cx="221.0" cy="90.0" r="1.12" fill="#fff"/>
<text x="216.6" y="93.3" font-size="5.6" fill="#3d9a4f" text-anchor="end" font-weight="normal" stroke="#fff" stroke-width="1" stroke-opacity=".85" paint-order="stroke">Gold's Gym</text>
<path d="M200.8 112.3L198.3 108.7A3.1 3.1 0 1 1 203.3 108.7Z" fill="#f4a91c" stroke="#fff" stroke-width=".35"/>
<circle cx="200.8" cy="107.0" r="1.12" fill="#fff"/>
<text x="194.8" y="109.8" font-size="5.6" fill="#2d3033" text-anchor="end" font-weight="normal" stroke="#fff" stroke-width="1" stroke-opacity=".85" paint-order="stroke">Mexic-Arte Museum</text>
<path d="M232.4 82.8L229.9 79.2A3.1 3.1 0 1 1 234.9 79.2Z" fill="#f4a91c" stroke="#fff" stroke-width=".35"/>
<circle cx="232.4" cy="77.5" r="1.12" fill="#fff"/>
<text x="237.3" y="81.0" font-size="5.5" fill="#2d3033" text-anchor="start" font-weight="normal" stroke="#fff" stroke-width="1" stroke-opacity=".85" paint-order="stroke">Firehouse Lounge</text>
<path d="M253.7 107.3L251.2 103.7A3.1 3.1 0 1 1 256.2 103.7Z" fill="#f4a91c" stroke="#fff" stroke-width=".35"/>
<circle cx="253.7" cy="102.0" r="1.12" fill="#fff"/>
<text x="258.6" y="105.3" font-size="5.6" fill="#2d3033" text-anchor="start" font-weight="normal" stroke="#fff" stroke-width="1" stroke-opacity=".85" paint-order="stroke">Midnight Cowboy</text>
<path d="M236.3 93.1L233.8 89.5A3.1 3.1 0 1 1 238.8 89.5Z" fill="#f28b50" stroke="#fff" stroke-width=".35"/>
<circle cx="236.3" cy="87.8" r="1.12" fill="#fff"/>
<path d="M247.0 65.3L244.5 61.7A3.1 3.1 0 1 1 249.5 61.7Z" fill="#e75fb0" stroke="#fff" stroke-width=".35"/>
<circle cx="247.0" cy="60.0" r="1.12" fill="#fff"/>
<text x="241.7" y="60.0" font-size="5.7" fill="#e062ae" text-anchor="end" font-weight="normal" stroke="#fff" stroke-width="1" stroke-opacity=".85" paint-order="stroke">Omni Austin</text>
<text x="241.7" y="66.0" font-size="5.7" fill="#e062ae" text-anchor="end" font-weight="normal" stroke="#fff" stroke-width="1" stroke-opacity=".85" paint-order="stroke">Hotel Downtown</text>
<path d="M327.9 41.0L325.4 37.4A3.1 3.1 0 1 1 330.4 37.4Z" fill="#f28b50" stroke="#fff" stroke-width=".35"/>
<circle cx="327.9" cy="35.7" r="1.12" fill="#fff"/>
<text x="322.8" y="37.0" font-size="5.7" fill="#e0834e" text-anchor="end" font-weight="normal" stroke="#fff" stroke-width="1" stroke-opacity=".85" paint-order="stroke">Mohawk Austin</text>
<path d="M324.0 76.0L321.5 72.4A3.1 3.1 0 1 1 326.5 72.4Z" fill="#f28b50" stroke="#fff" stroke-width=".35"/>
<circle cx="324.0" cy="70.7" r="1.12" fill="#fff"/>
<text x="319.0" y="74.0" font-size="5.6" fill="#e0834e" text-anchor="end" font-weight="normal" stroke="#fff" stroke-width="1" stroke-opacity=".85" paint-order="stroke">Stubb's Bar-B-Q</text>
<text x="303.9" y="131.6" font-size="5.6" fill="#e0834e" text-anchor="start" font-weight="normal" stroke="#fff" stroke-width="1" stroke-opacity=".85" paint-order="stroke">Easy Tiger</text>
<path d="M125.2 143.3L122.7 139.7A3.1 3.1 0 1 1 127.7 139.7Z" fill="#e75fb0" stroke="#fff" stroke-width=".35"/>
<circle cx="125.2" cy="138.0" r="1.12" fill="#fff"/>
<text x="120.7" y="140.5" font-size="5.8" fill="#e062ae" text-anchor="end" font-weight="normal" stroke="#fff" stroke-width="1" stroke-opacity=".85" paint-order="stroke">W Austin</text>
<path d="M187.0 164.3L184.5 160.7A3.1 3.1 0 1 1 189.5 160.7Z" fill="#e75fb0" stroke="#fff" stroke-width=".35"/>
<circle cx="187.0" cy="159.0" r="1.12" fill="#fff"/>
<text x="136.7" y="162.2" font-size="5.65" fill="#e062ae" text-anchor="start" font-weight="normal" stroke="#fff" stroke-width="1" stroke-opacity=".85" paint-order="stroke">JW Marriott Austin</text>
<path d="M278.7 143.7L276.2 140.1A3.1 3.1 0 1 1 281.2 140.1Z" fill="#e75fb0" stroke="#fff" stroke-width=".35"/>
<circle cx="278.7" cy="138.4" r="1.12" fill="#fff"/>
<text x="273.0" y="141.3" font-size="5.6" fill="#e062ae" text-anchor="end" font-weight="normal" stroke="#fff" stroke-width="1" stroke-opacity=".85" paint-order="stroke">Hilton Austin</text>
<path d="M262.0 184.7L259.5 181.1A3.1 3.1 0 1 1 264.5 181.1Z" fill="#1ea0b4" stroke="#fff" stroke-width=".35"/>
<circle cx="262.0" cy="179.4" r="1.12" fill="#fff"/>
<text x="207.4" y="190.9" font-size="5.6" fill="#1a8a9c" text-anchor="start" font-weight="normal" stroke="#fff" stroke-width="1" stroke-opacity=".85" paint-order="stroke">Austin Convention Center</text>
<path d="M50.6 196.1L48.1 192.5A3.1 3.1 0 1 1 53.1 192.5Z" fill="#1ea0b4" stroke="#fff" stroke-width=".35"/>
<circle cx="50.6" cy="190.8" r="1.12" fill="#fff"/>
<text x="45.0" y="190.0" font-size="5.6" fill="#1a8a9c" text-anchor="end" font-weight="normal" stroke="#fff" stroke-width="1" stroke-opacity=".85" paint-order="stroke">Stevie Ray</text>
<text x="45.0" y="195.8" font-size="5.6" fill="#1a8a9c" text-anchor="end" font-weight="normal" stroke="#fff" stroke-width="1" stroke-opacity=".85" paint-order="stroke">Vaughan Statue</text>
<path d="M10.2 98.3L7.7 94.7A3.1 3.1 0 1 1 12.7 94.7Z" fill="#3d82e0" stroke="#fff" stroke-width=".35"/>
<circle cx="10.2" cy="93.0" r="1.12" fill="#fff"/>
<text x="5.8" y="95.5" font-size="5.6" fill="#3d82e0" text-anchor="end" font-weight="normal" stroke="#fff" stroke-width="1" stroke-opacity=".85" paint-order="stroke">Waterloo Records's</text>
<path d="M3.8 30.9L1.3 27.3A3.1 3.1 0 1 1 6.3 27.3Z" fill="#3d82e0" stroke="#fff" stroke-width=".35"/>
<circle cx="3.8" cy="25.6" r="1.12" fill="#fff"/>
</svg>
<!--/MAP-->
<div class="a" style="left:490px;top:315.4px;width:87.8px;height:25.3px;background:#fff;border-radius:2px;box-shadow:0 1px 3px rgba(0,0,0,.18)"></div>
<div class="a" style="left:524.3px;top:315.4px;width:1px;height:25.3px;background:#eceef0"></div>
<div class="t" style="left:497.4px;top:322.6px;font-size:11px;color:#68798c;letter-spacing:-.5px">Map</div>
<div class="t" style="left:531.9px;top:322.6px;font-size:11px;color:#68798c;letter-spacing:-.3px">Satellite</div>
<div class="a" style="left:676px;top:315.4px;width:25.3px;height:25.3px;background:#fff;border-radius:2px;box-shadow:0 1px 3px rgba(0,0,0,.18)"></div>
<svg class="a" style="left:681.5px;top:321.8px" width="14" height="13" viewBox="0 0 14 13"><g stroke="#6f7f92" stroke-width="1.3" fill="none"><path d="M.7 4.2V.7H4.2M9.8.7H13.3V4.2M13.3 8.8V12.3H9.8M4.2 12.3H.7V8.8"/></g></svg>
<div class="a" style="left:676px;top:418.2px;width:25.2px;height:25.2px;background:#fff;border-radius:2px;box-shadow:0 1px 3px rgba(0,0,0,.18)"></div>
<svg class="a" style="left:683.5px;top:423.5px" width="11" height="16" viewBox="0 0 11 16"><g fill="#fdbb13" stroke="#c78a00" stroke-width=".5"><circle cx="5.5" cy="2.4" r="2"/><path d="M2.3 5.2H8.7L9.8 10.3H8.3V15.2H6.2V11H4.8V15.2H2.7V10.3H1.2Z"/></g><path d="M5.5 5.5V9" stroke="#e04d2b" stroke-width=".8"/></svg>
<div class="a" style="left:676px;top:452.2px;width:24.8px;height:50.3px;background:#fff;border-radius:2px;box-shadow:0 1px 3px rgba(0,0,0,.18)"></div>
<div class="a" style="left:680px;top:477px;width:16.8px;height:1px;background:#eceef0"></div>
<svg class="a" style="left:683px;top:459.2px" width="11" height="11"><path d="M5.5 .5V10.5M.5 5.5H10.5" stroke="#6f7f92" stroke-width="1.3"/></svg>
<svg class="a" style="left:683px;top:485px" width="11" height="11"><path d="M.5 5.5H10.5" stroke="#6f7f92" stroke-width="1.3"/></svg>
<div class="a" style="left:621.8px;top:477.2px;width:44.9px;height:25.3px;background:#fff;border-radius:2px;box-shadow:0 1px 3px rgba(0,0,0,.18)"></div>
<div class="t" style="left:630.2px;top:484.8px;font-size:12px;color:#7b8896;letter-spacing:-.2px">Reset</div>
<svg class="a" style="left:540px;top:374px" width="23" height="26" viewBox="0 0 23 26"><path d="M11.1 24.4L4.3 16.6A9.9 9.9 0 1 1 17.9 16.6Z" fill="#3b5ba9" stroke="#fff" stroke-width=".9" stroke-linejoin="round"/><circle cx="11.1" cy="10.9" r="3.7" fill="#faf3e1"/></svg>


<!-- Right panel -->
<div class="a" style="left:744px;top:0;width:256px;height:550px;background:#f6f7f7;box-shadow:-2px 0 8px rgba(0,0,0,.09)"></div>
<div class="a" style="left:744px;top:1px;width:256px;height:40px;background:#fff"></div>
<div class="a" style="left:744px;top:41px;width:256px;height:2px;background:#dce0e4"></div>
<div class="a" style="left:744px;top:492px;width:256px;height:58px;background:#fff;border-top:1.5px solid #dce0e4"></div>


<!-- tabs -->
<div class="t" style="left:757px;top:14.1px;font-size:12px;color:#a4a8ac">Basic</div>
<div class="t" style="left:811.5px;top:14.1px;font-size:12px;color:#27303a">Design</div>
<div class="t" style="left:874px;top:14.1px;font-size:12px;color:#a4a8ac">Conditional</div>
<div class="a" style="left:799.4px;top:38px;width:61.6px;height:3px;background:#1d2530"></div>
<svg class="a" style="left:972px;top:14.5px" width="12" height="12" viewBox="0 0 12 12"><path d="M1.2 1.2L10.8 10.8M10.8 1.2L1.2 10.8" stroke="#5f6e7f" stroke-width="1.3" fill="none"/></svg>
<!-- click & style toggle -->
<div class="a" style="left:761.5px;top:59.6px;width:59.7px;height:26.4px;background:#fff;border:1px solid #cfd5db;border-radius:3px"></div>
<div class="a" style="left:761.5px;top:59.6px;width:29.6px;height:26.4px;background:#4264ae;border-radius:3px 0 0 3px"></div>
<svg class="a" style="left:771px;top:66px" width="12" height="15" viewBox="0 0 12 15"><path d="M1.6 1.2L1.6 12.2L4.3 9.7L6.3 13.8L8.1 12.9L6.1 8.9L9.8 8.7Z" fill="#fff" stroke="#fff" stroke-width=".6" stroke-linejoin="round"/></svg>
<svg class="a" style="left:798px;top:63px" width="16" height="20" viewBox="0 0 16 20"><g fill="none" stroke="#7f8c99" stroke-width=".95" stroke-linejoin="round"><path d="M1.9 5.2L10.2 1.9L12.3 7.3L3.9 10.3Z"/><path d="M3.9 10.3L12.3 7.3L13.5 10.5L5.1 13.5Z"/><path d="M7.6 12.3L11.6 10.9L12.8 16.1A1.6 1.6 0 0 1 9.9 17.2Z"/><path d="M3.3 7.9L5.2 5.9L6.7 7.2L8.6 4.7L10.6 6.1"/></g></svg>
<div class="t" style="left:833.5px;top:67px;font-size:12px;font-weight:bold;color:#1f2833;letter-spacing:-.5px">Click &amp; style</div>
<div class="a" style="left:761px;top:103px;width:222px;height:1.5px;background:#dde1e5"></div>
<!-- background row -->
<div class="t" style="left:761.3px;top:128.6px;font-size:12px;color:#4d555e">Background</div>
<div class="a" style="left:844.3px;top:120.8px;width:45px;height:27.3px;background:#fff;border:1px solid #cfd5db;border-radius:3px"></div>
<div class="a" style="left:849.3px;top:125.5px;width:17.8px;height:17.8px;background:#fff;border:1px solid #c9cfd5;border-radius:2px;overflow:hidden"><svg width="16" height="16" style="display:block"><path d="M0.5 15.5L15.5 0.5" stroke="#b9c1c9" stroke-width="1"/></svg></div>
<svg class="a" style="left:874.5px;top:132px" width="8" height="5"><path d="M0.5 0.5H7.5L4 4.5Z" fill="#8a97a4"/></svg>
<div class="a" style="left:898.3px;top:128px;width:13.5px;height:13.3px;background:#fff;border:1px solid #c2c9d0;border-radius:2px"></div>
<div class="t" style="left:917.5px;top:128.6px;font-size:12px;color:#4d555e">Entire row</div>
<!-- text row -->
<div class="t" style="left:761.3px;top:164.4px;font-size:12px;color:#4d555e">Text</div>
<div class="a" style="left:793.8px;top:156.3px;width:45.5px;height:27.5px;background:#fff;border:1px solid #cfd5db;border-radius:3px"></div>
<svg class="a" style="left:801px;top:163px" width="14" height="14"><g stroke="#7d8a97" stroke-width="1"><path d="M0.5 1.5H12.5M0.5 5H9.5M0.5 8.5H12.5M0.5 12H9.5"/></g></svg>
<svg class="a" style="left:824.5px;top:168px" width="8" height="5"><path d="M0.5 0.5H7.5L4 4.5Z" fill="#8a97a4"/></svg>
<div class="a" style="left:844.3px;top:156.3px;width:45px;height:27.5px;background:#fff;border:1px solid #cfd5db;border-radius:3px"></div>
<div class="a" style="left:850px;top:162px;width:16.3px;height:16px;background:#d9534f;border-radius:1.5px"></div>
<svg class="a" style="left:874.5px;top:168px" width="8" height="5"><path d="M0.5 0.5H7.5L4 4.5Z" fill="#8a97a4"/></svg>
<div class="a" style="left:896.8px;top:160px;width:20.2px;height:20px;background:#e7e9eb;border-radius:2px"></div>
<div class="t" style="left:902px;top:164px;font-size:13px;font-weight:bold;color:#d9403c">B</div>
<div class="t" style="left:924.5px;top:164px;font-size:13px;font-style:italic;color:#7d8a97;font-family:'Liberation Serif',serif">I</div>
<div class="t" style="left:945px;top:163.5px;font-size:12px;color:#7d8a97;text-decoration:underline">U</div>
<div class="t" style="left:966.5px;top:163.5px;font-size:12px;color:#7d8a97;text-decoration:line-through">S</div>
<div class="a" style="left:761px;top:200px;width:222px;height:1.5px;background:#dde1e5"></div>
<div class="t" style="left:761px;top:226.1px;font-size:12px;color:#4d555e">Clear styles (10)</div>
<div class="a" style="left:952px;top:218px;width:30.5px;height:26.5px;background:#f6f7f7;border:1px solid #cfd5db;border-radius:3px"></div>
<svg class="a" style="left:969px;top:226px" width="9" height="10"><path d="M0.5 5H7.5M4.5 2L7.5 5L4.5 8" stroke="#8a97a4" stroke-width="1" fill="none"/></svg>
<div class="a" style="left:761px;top:262px;width:222px;height:1.5px;background:#dde1e5"></div>
<div class="t" style="left:761px;top:286.9px;font-size:12px;color:#4d555e">Undo / redo</div>
<div class="a" style="left:920px;top:279.5px;width:62.5px;height:26.8px;background:#f6f7f7;border:1px solid #cfd5db;border-radius:3px"></div>
<div class="a" style="left:949.5px;top:280px;width:1px;height:26px;background:#cfd5db"></div>
<svg class="a" style="left:928px;top:286px" width="14" height="14"><path d="M9.2 2.7A5.2 5.2 0 1 1 6.55 2.22" stroke="#7f8c99" stroke-width="1.1" fill="none"/><path d="M7.1 1.9L8.6 3.9" stroke="#7f8c99" stroke-width="1.2" stroke-linecap="round"/></svg>
<svg class="a" style="left:960px;top:286px" width="14" height="14"><path d="M4.8 2.7A5.2 5.2 0 1 0 7.45 2.22" stroke="#7f8c99" stroke-width="1.1" fill="none"/><path d="M6.9 1.9L5.4 3.9" stroke="#7f8c99" stroke-width="1.2" stroke-linecap="round"/></svg>
<!-- colour popover -->
<div class="a" style="left:844.4px;top:183px;width:127.8px;height:106px;background:#fff;border:1px solid #d6dbe0;border-radius:3px;box-shadow:0 2px 6px rgba(0,0,0,.08)"></div>
<div class="a" style="left:857px;top:196px;width:16.5px;height:16.4px;border-radius:2px;background:#8e9194"></div>
<div class="a" style="left:878px;top:196px;width:16.5px;height:16.4px;border-radius:2px;background:#fff;border:1px solid #e6e8ea"></div>
<div class="a" style="left:899.4px;top:196px;width:16.5px;height:16.4px;border-radius:2px;background:#f3f4f4;border:1px solid #ebedee"></div>
<div class="a" style="left:921px;top:196px;width:16.5px;height:16.4px;border-radius:2px;background:#d8dbde"></div>
<div class="a" style="left:942px;top:196px;width:16.8px;height:16.4px;border-radius:2px;background:#000"></div>
<div class="a" style="left:857px;top:217.6px;width:16.5px;height:16.2px;border-radius:2px;background:#4264ae"></div>
<div class="a" style="left:878px;top:217.6px;width:16.5px;height:16.2px;border-radius:2px;background:#b8c8e8"></div>
<div class="a" style="left:921px;top:217.6px;width:16.5px;height:16.2px;border-radius:2px;background:#0996c9"></div>
<div class="a" style="left:942px;top:217.6px;width:16.8px;height:16.2px;border-radius:2px;background:#1f446b"></div>
<div class="a" style="left:857px;top:239px;width:16.5px;height:16.2px;border-radius:2px;background:#d9534f"></div>
<div class="a" style="left:878px;top:239px;width:16.5px;height:16.2px;border-radius:2px;background:#fecd57"></div>
<div class="a" style="left:899.4px;top:239px;width:16.5px;height:16.2px;border-radius:2px;background:#f08a24"></div>
<div class="a" style="left:921px;top:239px;width:16.5px;height:16.2px;border-radius:2px;background:#c1095f"></div>
<div class="a" style="left:942px;top:239px;width:16.8px;height:16.2px;border-radius:2px;background:#770062"></div>
<div class="a" style="left:857px;top:260.4px;width:16.5px;height:16.2px;border-radius:2px;background:#0b9c7a"></div>
<div class="a" style="left:878px;top:260.4px;width:16.5px;height:16.2px;border-radius:2px;background:#a3d8cd"></div>
<div class="a" style="left:899.4px;top:260.4px;width:16.5px;height:16.2px;border-radius:2px;background:#66f4d8"></div>
<div class="a" style="left:921px;top:260.4px;width:16.5px;height:16.2px;border-radius:2px;background:#35d8b6"></div>
<div class="a" style="left:942px;top:260.4px;width:16.8px;height:16.2px;border-radius:2px;background:#00705a"></div>
<svg class="a" style="left:859px;top:241px" width="20" height="24" viewBox="0 0 20 24"><path d="M2.5 6L5 8.5L9.5 3" stroke="#fff" stroke-width="1.6" fill="none"/><path d="M7.2 4.6C7.2 3.6 8.9 3.6 8.9 4.6V10C9.2 9.3 10.6 9.4 10.7 10.3C11 9.6 12.4 9.7 12.5 10.6C12.8 10 14.2 10.1 14.2 11V15.5C14.2 18.2 12.8 19.6 10.4 19.6H9.4C7.8 19.6 7 18.8 6.1 17.4L4.2 14.1C3.7 13.2 4.9 12.4 5.6 13.2L7.2 15Z" fill="#fff" stroke="#222" stroke-width="0.9" stroke-linejoin="round"/><path d="M9.6 16.2V18.2M11 16.2V18.2M12.4 16.2V18.2" stroke="#222" stroke-width=".7"/></svg>
<!-- footer -->
<div class="t" style="left:790.5px;top:515px;font-size:12px;color:#4264ae;letter-spacing:-.25px">Cancel</div>
<div class="a" style="left:857.6px;top:505px;width:109.8px;height:32px;background:#4264ae;border-radius:3px"></div>
<div class="t" style="left:875.2px;top:515px;font-size:12px;font-weight:bold;color:#fff;letter-spacing:-.5px">Save changes</div>
</body></html>
